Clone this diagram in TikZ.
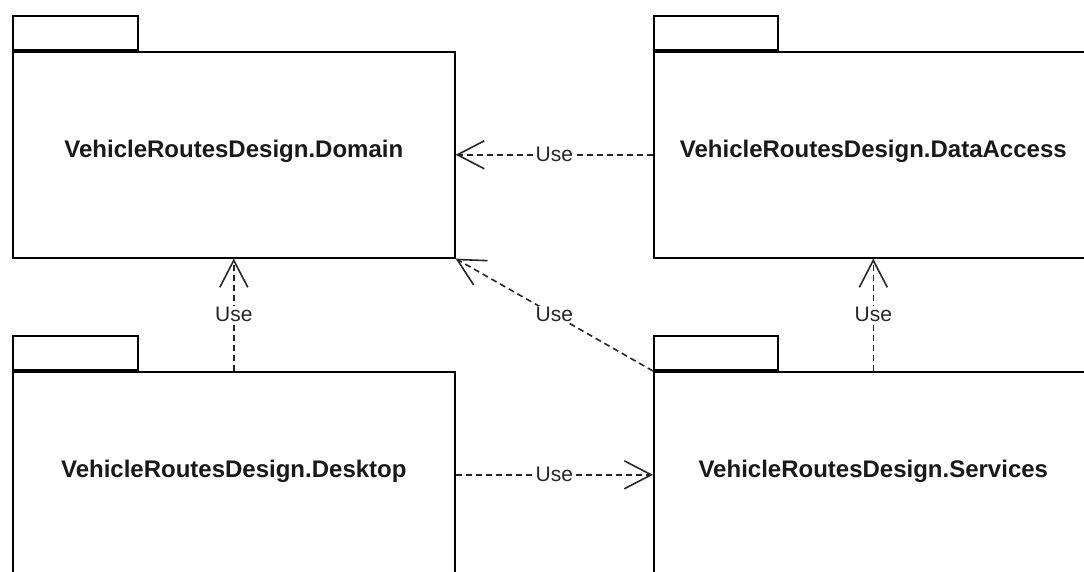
\documentclass[tikz,border=0pt]{standalone}
\usepackage{fontspec}
\setmainfont{Liberation Sans}
\usetikzlibrary{arrows.meta}
\begin{document}
\begin{tikzpicture}[x=1pt,y=-1pt,
  pkgbody/.style={draw=black, line width=1.6pt, minimum width=442pt, minimum height=206pt, inner sep=0pt, anchor=north west},
  pkgtab/.style={draw=black, line width=1.6pt, minimum width=125pt, minimum height=34pt, inner sep=0pt, anchor=south west},
  pkgname/.style={font=\bfseries\fontsize{24}{28}\selectfont, anchor=base, inner sep=0pt, text=black!90},
  uses/.style={draw=black!85, line width=1.6pt, dash pattern=on 6pt off 4pt, -{Straight Barb[length=27pt,width=28pt,line width=1.6pt]}},
  uselabel/.style={fill=white, inner sep=1pt, font=\fontsize{21}{25}\selectfont, text=black!85}]
\useasboundingbox (0,0) rectangle (1084,572);
\clip (0,0) rectangle (1084,572);
% packages
\node[pkgbody] (domain) at (12,51) {};
\node[pkgtab] (domaintab) at (domain.north west) {};
\node[pkgname] (domainname) at ([yshift=-2.5pt]domain.center) {VehicleRoutesDesign.Domain};

\node[pkgbody, minimum width=439pt] (dataaccess) at (653,51) {};
\node[pkgtab, minimum width=124pt] (dataaccesstab) at (dataaccess.north west) {};
\node[pkgname] (dataaccessname) at ([yshift=-2.5pt]dataaccess.center) {VehicleRoutesDesign.DataAccess};

\node[pkgbody] (desktop) at (12,371) {};
\node[pkgtab] (desktoptab) at (desktop.north west) {};
\node[pkgname] (desktopname) at ([yshift=-2.5pt]desktop.center) {VehicleRoutesDesign.Desktop};

\node[pkgbody, minimum width=439pt] (services) at (653,371) {};
\node[pkgtab, minimum width=124pt] (servicestab) at (services.north west) {};
\node[pkgname] (servicesname) at ([yshift=-2.5pt]services.center) {VehicleRoutesDesign.Services};

% dependencies
\draw[uses] (dataaccess.west) -- node[uselabel] {Use} (domain.east);
\draw[uses] (desktop.north) -- node[uselabel] {Use} (domain.south);
\draw[uses] (services.north) -- node[uselabel] {Use} (dataaccess.south);
\draw[uses] (services.north west) -- node[uselabel] {Use} (domain.south east);
\draw[uses] (desktop.east) -- node[uselabel] {Use} (services.west);
\end{tikzpicture}
\end{document}
